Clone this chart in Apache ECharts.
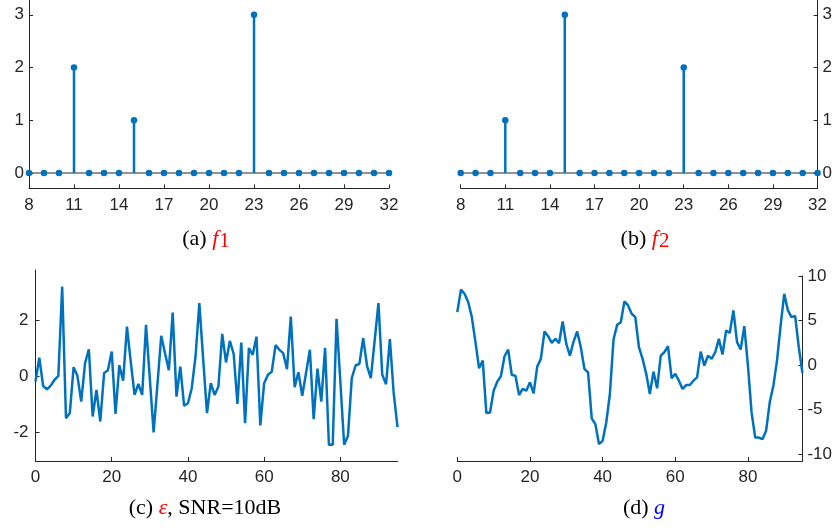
<!DOCTYPE html>
<html><head><meta charset="utf-8">
<script src="https://cdn.jsdelivr.net/npm/echarts@6/dist/echarts.min.js"></script>
<style>html,body{margin:0;padding:0;background:#fff}#c{width:835px;height:529px}</style>
</head><body><div id="c"></div>
<script>
// ---- data ----
const stemX = [8,9,10,11,12,13,14,15,16,17,18,19,20,21,22,23,24,25,26,27,28,29,30,31,32];
const f1 = [0,0,0,2,0,0,0,1,0,0,0,0,0,0,0,3,0,0,0,0,0,0,0,0,0];
const f2 = [0,0,0,1,0,0,0,3,0,0,0,0,0,0,0,2,0,0,0,0,0,0,0,0,0];
const stemTicks = [8,11,14,17,20,23,26,29,32];
const stemYTicks = [0,1,2,3];

const eps = [-0.2,0.65,-0.36,-0.48,-0.35,-0.14,0.0,3.19,-1.51,-1.33,
  0.31,0.0,-0.92,0.45,0.95,-1.45,-0.5,-1.63,0.1,0.2,
  0.87,-1.36,0.38,-0.17,1.76,0.5,-0.68,-0.29,-0.68,1.82,
  -0.1,-2.02,-0.3,1.43,0.8,0.2,2.26,-0.74,0.33,-1.07,
  -0.98,-0.44,0.7,2.6,0.6,-1.33,-0.26,-0.68,-0.38,1.5,
  0.48,1.25,0.79,-1.0,1.19,-1.69,0.99,0.75,1.4,-1.77,
  -0.26,0.04,0.15,1.1,0.93,0.81,0.24,2.12,-0.4,0.13,
  -0.71,0.1,0.93,-1.55,0.26,-0.92,1.0,-2.46,-2.46,2.04,
  -0.2,-2.46,-2.14,-0.08,0.37,0.43,1.35,0.36,-0.08,1.25,
  2.6,0.04,-0.3,1.31,-0.62,-1.83];
const g = [5.94,8.46,8.0,7.07,5.38,2.56,-0.38,0.49,-5.41,-5.34,
  -2.9,-1.88,-1.28,0.98,1.73,-1.13,-1.2,-3.38,-2.7,-2.9,
  -1.95,-3.2,-0.19,0.68,3.76,3.23,2.48,2.93,2.44,4.89,
  2.37,1.05,2.63,3.76,1.99,-0.45,-0.83,-6.0,-6.65,-8.9,
  -8.53,-6.47,-3.27,2.86,4.51,4.81,7.14,6.69,5.75,5.38,
  1.99,0.68,-1.0,-3.27,-0.75,-2.63,1.05,1.43,2.1,-1.5,
  -1.0,-1.77,-2.7,-2.26,-2.26,-1.77,-1.39,1.5,-0.08,1.05,
  0.68,1.43,2.93,1.17,3.87,3.6,6.13,2.56,1.73,4.36,
  -0.08,-5.34,-8.16,-8.16,-8.35,-7.4,-4.2,-2.33,0.49,4.44,
  8.0,6.13,5.38,5.5,1.99,-0.9];
const sigTicks = [0,20,40,60,80];
const epsYTicks = [-2,0,2];
const gYTicks = [-10,-5,0,5,10];

// ---- chart ----
const BLUE = '#0072BD', AX = '#262626';
const SANS = 'Liberation Sans, Arial, Helvetica, sans-serif';
const SERIF = 'Liberation Serif, Times New Roman, serif';

function xAxis(gi, min, max, ticks, fs, margin) {
  return {
    type: 'value', gridIndex: gi, min: min, max: max,
    axisLine: {show: true, onZero: false, lineStyle: {color: AX, width: 1}},
    axisTick: {show: true, inside: true, length: 4, customValues: ticks, lineStyle: {color: AX}},
    axisLabel: {customValues: ticks, color: AX, fontFamily: SANS, fontSize: fs, margin: margin},
    splitLine: {show: false}
  };
}
function yAxis(gi, min, max, ticks, pos, fs, margin) {
  return {
    type: 'value', gridIndex: gi, min: min, max: max, position: pos,
    axisLine: {show: true, onZero: false, lineStyle: {color: AX, width: 1}},
    axisTick: {show: true, inside: true, length: 4, customValues: ticks, lineStyle: {color: AX}},
    axisLabel: {customValues: ticks, color: AX, fontFamily: SANS, fontSize: fs, margin: margin},
    splitLine: {show: false}
  };
}
function pairs(xs, ys) { return xs.map((x, i) => [x, ys[i]]); }
const idx = eps.map((_, i) => i);

function stemSeries(ai, vals) {
  return [
    {type: 'line', xAxisIndex: ai, yAxisIndex: ai, data: [[stemX[0], 0], [stemX[stemX.length - 1], 0]],
      symbol: 'none', lineStyle: {color: AX, width: 1}, z: 1, silent: true},
    {type: 'bar', xAxisIndex: ai, yAxisIndex: ai, data: pairs(stemX, vals), barWidth: 2.5,
      itemStyle: {color: BLUE}, z: 2, silent: true},
    {type: 'scatter', xAxisIndex: ai, yAxisIndex: ai, data: pairs(stemX, vals), symbol: 'circle',
      symbolSize: 6.5, itemStyle: {color: BLUE, opacity: 1}, z: 3, silent: true}
  ];
}

function caption(x, y, text) {
  return {type: 'text', x: x, y: y, silent: true,
    style: {text: text, align: 'center', verticalAlign: 'middle',
      fontFamily: SERIF, fontSize: 22, fill: '#000', rich: richCap}};
}
const richCap = {
  t: {fontFamily: SERIF, fontSize: 22, fill: '#000', color: '#000'},
  r: {fontFamily: SERIF, fontSize: 22, fontStyle: 'italic', fill: '#ff0000', color: '#ff0000'},
  rs: {fontFamily: SERIF, fontSize: 21, fill: '#ff0000', color: '#ff0000', padding: [4, 0, 0, 1]},
  b: {fontFamily: SERIF, fontSize: 22, fontStyle: 'italic', fill: '#0000ff', color: '#0000ff'}
};

const option = {
  animation: false,
  backgroundColor: '#fff',
  grid: [
    {left: 29, top: 0, width: 360, height: 188.3},
    {left: 460.7, top: 0, width: 361.6, height: 188.3},
    {left: 35.5, top: 270, width: 362, height: 191},
    {left: 457.3, top: 276, width: 348.3, height: 185}
  ],
  xAxis: [
    xAxis(0, 8, 32, stemTicks, 17, 9),
    xAxis(1, 8, 32, stemTicks, 17, 9),
    xAxis(2, 0, 95, sigTicks, 17, 8),
    xAxis(3, 0, 95, sigTicks, 17, 8)
  ],
  yAxis: [
    yAxis(0, -0.29, 3.28, stemYTicks, 'left', 17, 5),
    yAxis(1, -0.29, 3.28, stemYTicks, 'right', 17, 5),
    yAxis(2, -3.04, 3.78, epsYTicks, 'left', 17, 7),
    yAxis(3, -10.8, 10, gYTicks, 'right', 17, 5)
  ],
  series: [
    ...stemSeries(0, f1),
    ...stemSeries(1, f2),
    {type: 'line', xAxisIndex: 2, yAxisIndex: 2, data: pairs(idx, eps), symbol: 'none',
      lineStyle: {color: BLUE, width: 2.5}, silent: true},
    {type: 'line', xAxisIndex: 3, yAxisIndex: 3, data: pairs(idx, g), symbol: 'none',
      lineStyle: {color: BLUE, width: 2.5}, silent: true}
  ],
  graphic: [
    caption(206, 239, '{t|(a) }{r|f}{rs|1}'),
    caption(645, 239, '{t|(b) }{r|f}{rs|2}'),
    caption(205, 508, '{t|(c) }{r|ε}{t|, SNR=10dB}'),
    caption(644, 508, '{t|(d) }{b|g}')
  ]
};
const chart = echarts.init(document.getElementById('c'), null, {renderer: 'canvas'});
chart.setOption(option);
</script>
</body></html>
